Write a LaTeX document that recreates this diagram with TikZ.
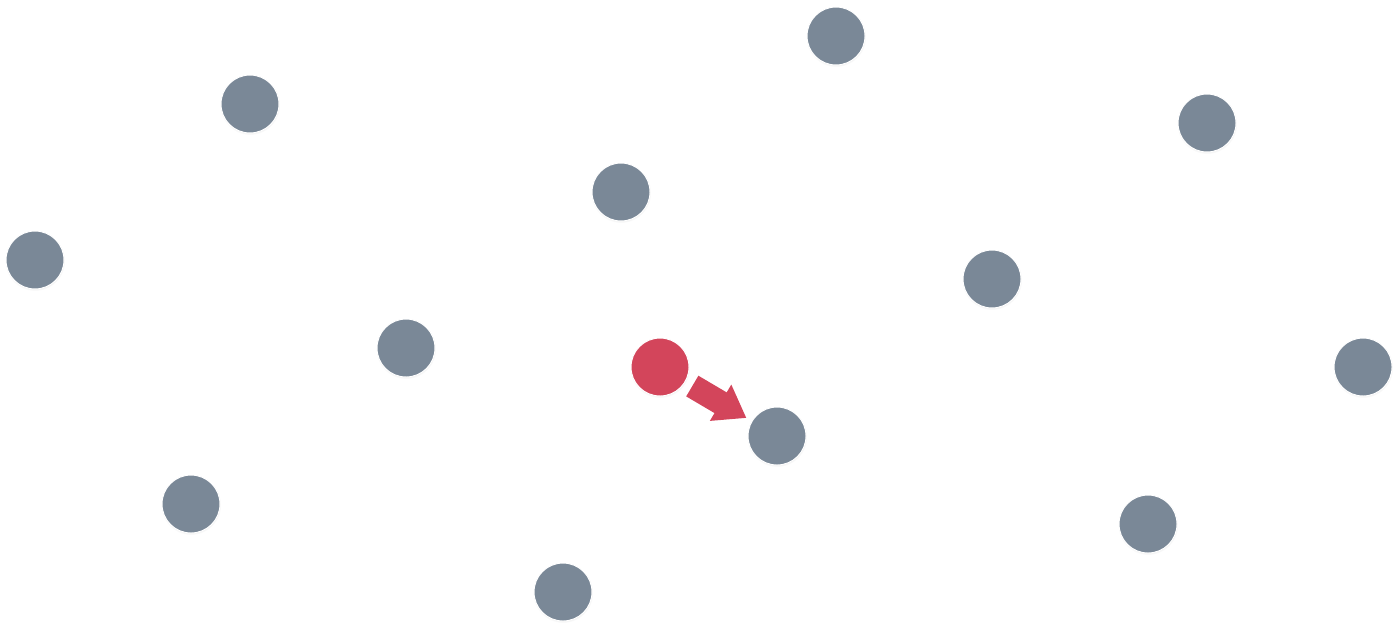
\documentclass[tikz,border=0pt]{standalone}
\usetikzlibrary{arrows.meta,shadows}
\definecolor{dotgray}{HTML}{7A8897}
\definecolor{dotred}{HTML}{D3455B}
\tikzset{
  dot/.style={circle, minimum size=29pt, inner sep=0pt, fill=dotgray, draw=white, line width=0.5pt,
    circular drop shadow={shadow xshift=0pt, shadow yshift=-0.4pt, shadow scale=1.04, opacity=0.18}},
  reddot/.style={dot, fill=dotred},
  push/.style={draw=dotred, line width=12pt, -{Triangle[length=15pt,width=20pt]},
    shorten <=4pt, shorten >=3pt}
}
\begin{document}
\begin{tikzpicture}[x=0.5pt,y=-0.5pt]
\useasboundingbox[fill=white] (0,0) rectangle (1400,628);
\node[dot] (c1) at (836,36) {};
\node[dot] (c2) at (250,104) {};
\node[dot] (c3) at (1207,123) {};
\node[dot] (c4) at (621,192) {};
\node[dot] (c5) at (35,260) {};
\node[dot] (c6) at (992,279) {};
\node[dot] (c7) at (406,348) {};
\node[reddot] (c8) at (660,367) {};
\node[dot] (c9) at (1363,367) {};
\node[dot] (c10) at (777,436) {};
\node[dot] (c11) at (191,504) {};
\node[dot] (c12) at (1148,524) {};
\node[dot] (c13) at (563,592) {};
\draw[push] (c8) -- (c10);
\end{tikzpicture}
\end{document}
